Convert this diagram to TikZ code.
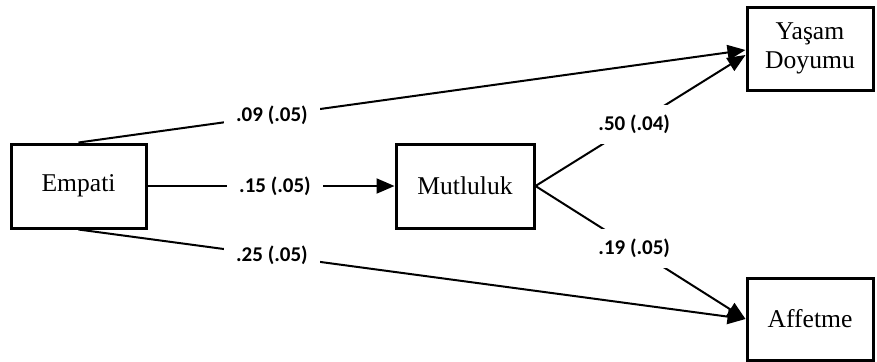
\documentclass[tikz,border=0pt]{standalone}
\usepackage{fontspec}
\setmainfont{Liberation Serif}
\newfontfamily\lblfont{Carlito}
\usetikzlibrary{arrows.meta,calc}
\begin{document}
\begin{tikzpicture}[x=0.5pt,y=-0.5pt,
  box/.style={draw, line width=1.5pt, fill=white, inner sep=0pt, align=center,
    font=\fontsize{12.8}{14.5}\selectfont},
  conn/.style={line width=1pt},
  arr/.style={conn, -{Triangle[length=9pt,width=7.5pt]}},
  lbl/.style={fill=white, inner xsep=6pt, inner ysep=5pt,
    font=\lblfont\bfseries\fontsize{10.5}{12}\selectfont}]
\useasboundingbox (0,0) rectangle (877,361);
\node[box, minimum width=67.5pt, minimum height=42pt] (E) at (78.5,186) {Empati};
\node[box, minimum width=69pt, minimum height=42pt] (M) at (465,186) {Mutluluk};
\node[box, minimum width=63pt, minimum height=41.5pt] (Y) at (810,48.5) {Yaşam\\Doyumu};
\node[box, minimum width=63pt, minimum height=41pt] (A) at (810,319) {Affetme};
\draw[arr] (E.north) -- node[lbl, pos=0.29] {.09 (.05)} ($(Y.west)+(0,1.5)$);
\draw[arr] (E.east) -- node[lbl, pos=0.516] {.15 (.05)} (M.west);
\draw[arr] (E.south) -- node[lbl, pos=0.29] {.25 (.05)} (A.west);
\draw[arr] (M.east) -- node[lbl, pos=0.47] {.50 (.04)} ($(Y.west)+(0,6.5)$);
\draw[arr] (M.east) -- node[lbl, pos=0.47] {.19 (.05)} (A.west);
\end{tikzpicture}
\end{document}
